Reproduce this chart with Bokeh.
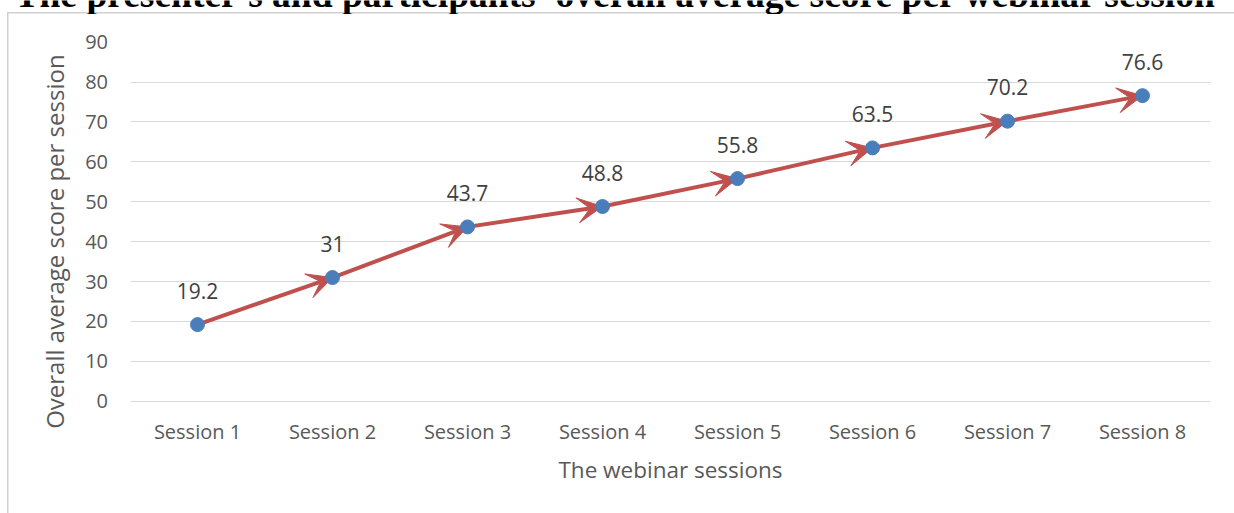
from bokeh.plotting import figure
from bokeh.models import (ColumnDataSource, Range1d, FixedTicker, Arrow, VeeHead, Label,
                          BoxAnnotation)
from bokeh.core.properties import value
from bokeh.embed import file_html
from bokeh.resources import INLINE

# ---------------- data ----------------
title_text = "The presenter's and participants' overall average score per webinar session"
x_title = "The webinar sessions"
y_title = "Overall  average score per session"
sessions = ["Session 1", "Session 2", "Session 3", "Session 4",
            "Session 5", "Session 6", "Session 7", "Session 8"]
scores = [19.2, 31, 43.7, 48.8, 55.8, 63.5, 70.2, 76.6]
score_labels = [f"{v:g}" for v in scores]
y_ticks = [0, 10, 20, 30, 40, 50, 60, 70, 80, 90]

# ---------------- styling / layout ----------------
FONT = "Open Sans"
GRID = "#d9d9d9"
TICK_COLOR = "#595959"
LINE_RED = "#c0504d"
DOT_BLUE = "#4a7ebb"
BORDER = "#d0d0d0"

W, H = 1234, 513
PLOT_L, PLOT_R, PLOT_T, PLOT_B = 129.5, 1209.5, 41.7, 400.7   # pixel box of the data area

xs = list(range(1, len(sessions) + 1))
x_lo, x_hi = 0.5, len(sessions) + 0.5
y_lo, y_hi = y_ticks[0], y_ticks[-1]
xpx = (PLOT_R - PLOT_L) / (x_hi - x_lo)
ypx = (PLOT_B - PLOT_T) / (y_hi - y_lo)
x_range = Range1d(x_lo - PLOT_L / xpx, x_hi + (W - PLOT_R) / xpx)
y_range = Range1d(y_lo - (H - PLOT_B) / ypx, y_hi + PLOT_T / ypx)

# light grey frame of the chart area (left and top edges), drawn as page background
border_css = {
    "background-image": f"linear-gradient({BORDER}, {BORDER}), linear-gradient({BORDER}, {BORDER})",
    "background-size": "1.5px 100%, 100% 1.5px",
    "background-position": "7px 12px, 7px 12px",
    "background-repeat": "no-repeat",
}

p = figure(width=W, height=H, output_backend="svg", toolbar_location=None,
           x_range=x_range, y_range=y_range,
           min_border=0, min_border_left=0, min_border_right=0,
           min_border_top=0, min_border_bottom=0,
           styles=border_css)
p.outline_line_color = None
p.background_fill_alpha = 0.0
p.border_fill_alpha = 0.0

# title (partly cut off at the top, as in the reference)
title = Label(x=14, y=H + 6, x_units="screen", y_units="screen", text=title_text,
              text_font="Liberation Serif", text_font_style="bold", text_font_size="37.5px",
              text_color="black", text_align="left", text_baseline="alphabetic",
              level="image")
p.add_layout(title)

# the chart area hides the title's descenders below its top edge
mask = BoxAnnotation(left=8.5, right=W, top=H - 13.5, bottom=H - 24,
                     left_units="screen", right_units="screen",
                     top_units="screen", bottom_units="screen",
                     fill_color="white", fill_alpha=1.0, line_color=None,
                     level="underlay")
p.add_layout(mask)

# grid
p.xgrid.visible = False
grid = p.ygrid[0]
grid.ticker = FixedTicker(ticks=y_ticks[1:-1])
grid.grid_line_color = GRID
grid.grid_line_width = 1
if "cross_bounds" in grid.properties():
    grid.cross_bounds = (x_lo, x_hi)
else:
    grid.visible = False
    gy = y_ticks[1:-1]
    p.segment(x0=[x_lo] * len(gy), x1=[x_hi] * len(gy), y0=gy, y1=gy,
              line_color=GRID, line_width=1, level="underlay")

# y axis (drawn at the left edge of the data area)
yax = p.yaxis[0]
yax.fixed_location = x_lo
yax.bounds = (y_lo - 8.4, y_hi)     # slightly longer so that its title sits a bit lower
yax.ticker = FixedTicker(ticks=y_ticks)
yax.axis_line_color = None
yax.major_tick_line_color = None
yax.minor_tick_line_color = None
yax.major_tick_out = 0
yax.major_tick_in = 0
yax.major_label_standoff = 22
yax.major_label_text_font = FONT
yax.major_label_text_font_size = "20px"
yax.major_label_text_color = TICK_COLOR
yax.axis_label = y_title
yax.axis_label_text_font = FONT
yax.axis_label_text_font_size = "24px"
yax.axis_label_text_font_style = "normal"
yax.axis_label_text_color = TICK_COLOR
yax.axis_label_standoff = 12

# x axis (drawn at y = 0)
xax = p.xaxis[0]
xax.fixed_location = y_lo
xax.bounds = (x_lo, x_hi)
xax.ticker = FixedTicker(ticks=xs)
xax.major_label_overrides = {x: s for x, s in zip(xs, sessions)}
xax.axis_line_color = GRID
xax.axis_line_width = 1
xax.major_tick_line_color = None
xax.minor_tick_line_color = None
xax.major_tick_out = 0
xax.major_tick_in = 0
xax.major_label_standoff = 17
xax.major_label_text_font = FONT
xax.major_label_text_font_size = "20px"
xax.major_label_text_color = TICK_COLOR
xax.axis_label = x_title
xax.axis_label_text_font = FONT
xax.axis_label_text_font_size = "22.5px"
xax.axis_label_text_font_style = "normal"
xax.axis_label_text_color = TICK_COLOR
xax.axis_label_standoff = 5

# arrows between consecutive sessions
seg = ColumnDataSource(data=dict(x0=xs[:-1], y0=scores[:-1], x1=xs[1:], y1=scores[1:]))
arrows = Arrow(end=VeeHead(size=25, fill_color=LINE_RED, line_color=LINE_RED, line_width=1),
               x_start="x0", y_start="y0", x_end="x1", y_end="y1", source=seg,
               line_color=LINE_RED, line_width=4, level="underlay")
p.add_layout(arrows)

# points
p.scatter(x=xs, y=scores, size=14, fill_color=DOT_BLUE, line_color=DOT_BLUE)

# data labels
p.text(x=xs, y=scores, text=score_labels, text_align="center", text_baseline="alphabetic",
       y_offset=-34, text_font=value(FONT), text_font_size="21px", text_color="#404040")

open("out.html", "w").write(file_html(p, INLINE))
